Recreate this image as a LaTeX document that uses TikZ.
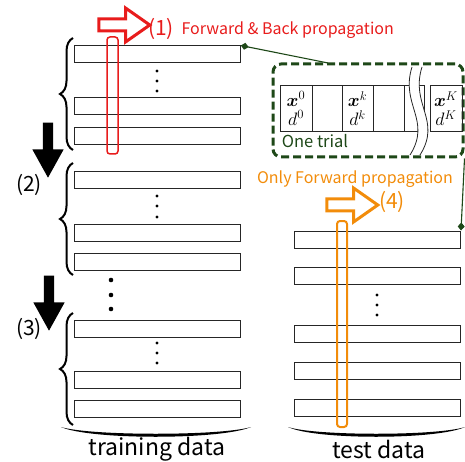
\RequirePackage{fix-cm}
\documentclass[tikz,border=0pt]{standalone}
\usepackage{amsmath}
\usepackage{fontspec}
\setmainfont{Noto Sans CJK JP}
\usetikzlibrary{shapes.arrows,decorations.pathreplacing,arrows.meta}
\definecolor{fwdred}{RGB}{232,28,28}
\definecolor{fwdorange}{RGB}{242,140,10}
\definecolor{trialgreen}{RGB}{30,72,24}

\begin{document}
\begin{tikzpicture}[x=1pt,y=-1pt,
	datarow/.style={draw=black!85,line width=1pt,minimum width=166pt,minimum height=17pt,inner sep=0pt},
	cell/.style={draw=black!85,line width=0.8pt,minimum height=46pt,inner sep=0pt,align=center,font=\fontsize{18}{19}\selectfont},
	grp/.style={decorate,decoration={brace,amplitude=13pt},line width=2pt},
	bignum/.style={font=\fontsize{21}{22}\selectfont},
	lbl/.style={font=\fontsize{16}{18}\selectfont},
	downarrow/.style={single arrow,shape border rotate=270,fill=black,minimum height=55pt,inner sep=5pt,single arrow head extend=10.5pt,single arrow tip angle=58},
	hollowarrow/.style={single arrow,fill=white,line width=3pt,minimum height=51pt,inner sep=4.5pt,single arrow head extend=11pt,single arrow tip angle=70},
	link/.style={draw=trialgreen,line width=1.1pt,-{Diamond[length=8pt,width=7pt]}},
	pass/.style={rounded corners=3pt,inner sep=0pt}]
	\useasboundingbox (0,0) rectangle (465,462);

	% training data
	\node[datarow] (tr1) at (157.3,54.5)  {};
	\node[datarow] (tr2) at (157.3,106.5) {};
	\node[datarow] (tr3) at (157.3,136.5) {};
	\node[datarow] (tr4) at (157.3,180)   {};
	\node[datarow] (tr5) at (157.3,232.5) {};
	\node[datarow] (tr6) at (157.3,262)   {};
	\node[datarow] (tr7) at (157.3,329)   {};
	\node[datarow] (tr8) at (157.3,379.5) {};
	\node[datarow] (tr9) at (157.3,409)   {};
	\foreach \y in {71,81,91,196,206,217,343,353,363}
		\fill (157,\y) circle (1.7);
	\foreach \y in {280,295,309}
		\fill (111,\y) circle (2.3);

	\draw[grp] (73,150) -- (73,38);
	\draw[grp] (73,275) -- (73,163);
	\draw[grp] (73,425) -- (73,313);

	\node[downarrow] (arr2) at (48,145.5) {};
	\node[downarrow] (arr3) at (49,298.5) {};
	\node[bignum] (n2) at (29,185) {(2)};
	\node[bignum] (n3) at (29,329) {(3)};

	\node[pass,draw=fwdred,line width=1.5pt,minimum width=11pt,minimum height=117pt] (redpass) at (112.5,95.5) {};
	\node[hollowarrow,draw=fwdred] (arr1) at (120,25) {};
	\node[bignum,text=fwdred] (n1) at (161,29) {(1)};
	\node[lbl,text=fwdred,anchor=west] (fb) at (178,30) {Forward \& Back propagation};

	% test data
	\node[datarow] (te1) at (377.5,239.5) {};
	\node[datarow] (te2) at (377.5,275.5) {};
	\node[datarow] (te3) at (377.5,333.5) {};
	\node[datarow] (te4) at (377.5,371)   {};
	\node[datarow] (te5) at (377.5,408)   {};
	\foreach \y in {295,305,315}
		\fill (377,\y) circle (1.7);

	\node[pass,draw=fwdorange,line width=2pt,minimum width=10pt,minimum height=206pt] (orgpass) at (342,324) {};
	\node[lbl,text=fwdorange] (of) at (355,179) {Only Forward propagation};
	\node[hollowarrow,draw=fwdorange] (arr4) at (348,205) {};
	\node[bignum,text=fwdorange] (n4) at (392,202) {(4)};

	% one trial
	\node[draw=trialgreen,line width=3pt,dash pattern=on 8pt off 4pt,rounded corners=8pt,minimum width=190pt,minimum height=93pt] (trial) at (368,110.5) {};
	\node[cell,minimum width=32pt] (c0) at (296,108.5)   {$\boldsymbol{x}^0$\\$d^0$};
	\node[cell,minimum width=30pt] (c1) at (327,108.5)   {};
	\node[cell,minimum width=31pt] (c2) at (357.5,108.5) {$\boldsymbol{x}^k$\\$d^k$};
	\node[cell,minimum width=31pt] (c3) at (388.5,108.5) {};
	\node[cell,minimum width=20pt] (c4) at (414,108.5)   {};
	\node[cell,minimum width=32pt] (c5) at (446,108.5)   {$\boldsymbol{x}^K$\\$d^K$};
	\fill[white] (412,67) .. controls (400,105) and (432,120) .. (410,155) -- (420,155) .. controls (442,120) and (410,105) .. (422,67) -- cycle;
	\draw[black!85,line width=0.8pt] (412,67) .. controls (400,105) and (432,120) .. (410,155);
	\draw[black!85,line width=0.8pt] (422,67) .. controls (410,105) and (442,120) .. (420,155);
	\node[lbl,text=trialgreen,font=\fontsize{16.5}{18}\selectfont] (ot) at (315,141) {One trial};

	\coordinate (trialtop) at (328,63);
	\path[link] (trialtop) -- (tr1.north east);
	\path[link] (trial.south east) -- (te1.north east);

	% bottom braces
	\fill (61,427) .. controls (90,440) and (221,440) .. (251,427) .. controls (221,436) and (90,436) .. cycle;
	\fill (288,427) .. controls (315,440) and (437,440) .. (465,427) .. controls (437,436) and (315,436) .. cycle;
	\node[font=\fontsize{23}{24}\selectfont] (trn) at (157,449) {training data};
	\node[font=\fontsize{23}{24}\selectfont] (tst) at (379,449) {test data};
\end{tikzpicture}
\end{document}
